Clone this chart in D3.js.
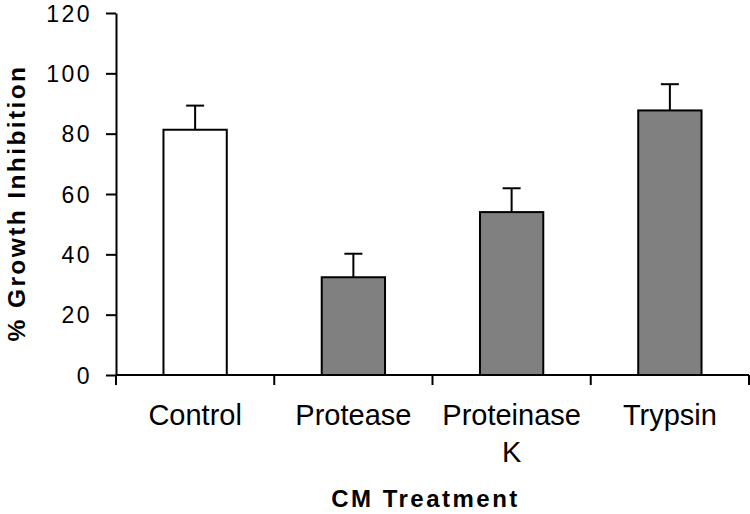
<!DOCTYPE html>
<html>
<head>
<meta charset="utf-8">
<script src="https://cdn.jsdelivr.net/npm/d3@7"></script>
<style>
  body { margin: 0; background: #fff; }
  text { font-family: "Liberation Sans", Arial, sans-serif; fill: #000; }
</style>
</head>
<body>
<div id="chart"></div>
<script>
// data
var categories = ["Control", "Protease", "Proteinase K", "Trypsin"];
var categoryLines = [["Control"], ["Protease"], ["Proteinase", "K"], ["Trypsin"]];
var values = [81.3, 32.4, 54.0, 87.7];
var errors = [8.0, 7.8, 7.9, 8.7];
var fills = ["#ffffff", "#808080", "#808080", "#808080"];
var yTicks = [0, 20, 40, 60, 80, 100, 120];

var width = 750,
    height = 514;

var svg = d3.select("#chart")
  .append("svg")
  .attr("width", width)
  .attr("height", height);

// plot area edges (window.top is taken, so prefix them)
var plotLeft = 116, plotRight = 749, plotTop = 13, plotBottom = 375;

var x = d3.scaleBand()
  .domain(categories)
  .range([plotLeft, plotRight])
  .paddingInner(0)
  .paddingOuter(0);

var y = d3.scaleLinear()
  .domain([0, 120])
  .range([plotBottom, plotTop]);

var barWidth = x.bandwidth() * 0.4;

var data = categories.map(function(c, i) {
  return {cat: c, value: values[i], err: errors[i], fill: fills[i], lines: categoryLines[i]};
});

// y axis
var yAxis = svg.append("g")
  .attr("transform", "translate(" + plotLeft + ",0)")
  .call(d3.axisLeft(y).tickValues(yTicks).tickSize(10).tickSizeOuter(0).tickPadding(14));

yAxis.select(".domain").attr("stroke", "#000").attr("stroke-width", 2);
yAxis.selectAll(".tick line").attr("stroke", "#000").attr("stroke-width", 2);
yAxis.selectAll(".tick text")
  .style("font-size", "23px")
  .style("letter-spacing", "2.5px")
  .attr("dy", "0.35em");

// bars
svg.append("g")
  .selectAll("rect")
  .data(data)
  .enter().append("rect")
  .attr("x", function(d) { return x(d.cat) + (x.bandwidth() - barWidth) / 2; })
  .attr("y", function(d) { return y(d.value); })
  .attr("width", barWidth)
  .attr("height", function(d) { return y(0) - y(d.value); })
  .attr("fill", function(d) { return d.fill; })
  .attr("stroke", "#000")
  .attr("stroke-width", 2);

// error bars (upper only)
var err = svg.append("g")
  .selectAll("g")
  .data(data)
  .enter().append("g");

err.append("line")
  .attr("x1", function(d) { return x(d.cat) + x.bandwidth() / 2; })
  .attr("x2", function(d) { return x(d.cat) + x.bandwidth() / 2; })
  .attr("y1", function(d) { return y(d.value); })
  .attr("y2", function(d) { return y(d.value + d.err); })
  .attr("stroke", "#000")
  .attr("stroke-width", 2);

err.append("line")
  .attr("x1", function(d) { return x(d.cat) + x.bandwidth() / 2 - 9; })
  .attr("x2", function(d) { return x(d.cat) + x.bandwidth() / 2 + 9; })
  .attr("y1", function(d) { return y(d.value + d.err); })
  .attr("y2", function(d) { return y(d.value + d.err); })
  .attr("stroke", "#000")
  .attr("stroke-width", 2);

// x axis line + boundary ticks
svg.append("line")
  .attr("x1", plotLeft).attr("x2", plotRight)
  .attr("y1", y(0)).attr("y2", y(0))
  .attr("stroke", "#000")
  .attr("stroke-width", 2);

var bounds = d3.range(categories.length + 1).map(function(i) { return plotLeft + i * x.step(); });
svg.append("g")
  .selectAll("line")
  .data(bounds)
  .enter().append("line")
  .attr("x1", function(d) { return d; })
  .attr("x2", function(d) { return d; })
  .attr("y1", y(0))
  .attr("y2", y(0) + 10)
  .attr("stroke", "#000")
  .attr("stroke-width", 2);

// category labels
var lbl = svg.append("g")
  .selectAll("text")
  .data(data)
  .enter().append("text")
  .attr("text-anchor", "middle")
  .style("font-size", "29px");

lbl.selectAll("tspan")
  .data(function(d) { return d.lines.map(function(l) { return {t: l, x: x(d.cat) + x.bandwidth() / 2}; }); })
  .enter().append("tspan")
  .attr("x", function(d) { return d.x; })
  .attr("y", function(d, i) { return y(0) + 50 + i * 37; })
  .text(function(d) { return d.t; });

// axis titles
svg.append("text")
  .attr("x", (plotLeft + plotRight) / 2 - 7)
  .attr("y", 507)
  .attr("text-anchor", "middle")
  .style("font-size", "24px")
  .style("font-weight", "bold")
  .style("letter-spacing", "2.5px")
  .text("CM Treatment");

svg.append("text")
  .attr("transform", "translate(25,203) rotate(-90)")
  .attr("text-anchor", "middle")
  .style("font-size", "24.5px")
  .style("font-weight", "bold")
  .style("letter-spacing", "2.4px")
  .text("% Growth Inhibition");
</script>
</body>
</html>
